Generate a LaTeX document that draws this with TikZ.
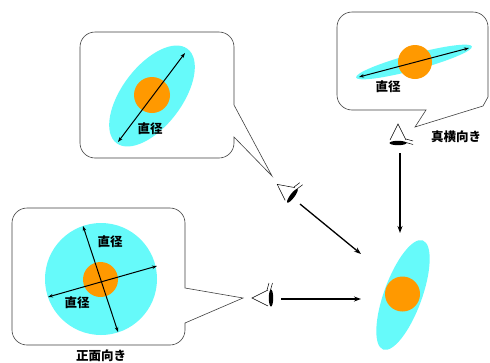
\documentclass[tikz,border=0pt]{standalone}
\usepackage{fontspec}
\newfontfamily\jp{Noto Sans CJK JP}
\usetikzlibrary{arrows.meta}
\definecolor{skycyan}{RGB}{102,250,250}
\definecolor{coreorange}{RGB}{255,153,0}
\begin{document}
\begin{tikzpicture}[x=1pt,y=-1pt,
  lbl/.style={font=\jp\bfseries\fontsize{12.5}{13}\selectfont, inner sep=0pt},
  bubble/.style={draw=black!75, line width=0.6pt, fill=white},
  sight/.style={line width=1.3pt, -{Stealth[length=7pt,width=5pt]}},
  diam/.style={line width=1pt, {Stealth[length=5pt,width=3.5pt]}-{Stealth[length=5pt,width=3.5pt]}},
  halo/.style={fill=skycyan},
  core/.style={fill=coreorange},
  eyeicon/.pic={
    \draw[line width=0.5pt] (0,-8) -- (-16,0) -- (0,8);
    \fill (3,0) ellipse [x radius=2.2pt, y radius=8.5pt];
    \draw[line width=0.5pt] (-1,-8) -- (1,-15) (2.5,-8) -- (4.5,-15);
  }]
\useasboundingbox (0,0) rectangle (490,362);

% speech bubble: oblique view
\draw[bubble] (234,105) -- (272,176) -- (234,137) -- (234,143)
  arc[start angle=0,end angle=-90,radius=15pt] -- (95,158)
  arc[start angle=-90,end angle=-180,radius=15pt] -- (80,47)
  arc[start angle=180,end angle=90,radius=15pt] -- (219,32)
  arc[start angle=90,end angle=0,radius=15pt] -- cycle;
\fill[halo, rotate around={53:(152,96)}] (152,96) ellipse [x radius=59pt, y radius=30pt];
\fill[core] (152,95) circle [radius=18pt];
\coordinate (obA) at (118,142);
\coordinate (obB) at (185,53);
\draw[diam] (obA) -- (obB);
\node[lbl] (obLabel) at (150,129) {直径};

% speech bubble: edge-on view
\draw[bubble] (426,110) -- (415,127) -- (483,106) -- (488,97) -- (488,27)
  arc[start angle=0,end angle=90,radius=15pt] -- (352,12)
  arc[start angle=90,end angle=180,radius=15pt] -- (337,95)
  arc[start angle=180,end angle=270,radius=15pt] -- cycle;
\fill[halo, rotate around={15:(414,62)}] (414,62) ellipse [x radius=60pt, y radius=8pt];
\fill[core] (415,62) circle [radius=17pt];
\coordinate (edA) at (359,77);
\coordinate (edB) at (469,48);
\draw[diam] (edA) -- (edB);
\node[lbl] (edLabel) at (388,87) {直径};

% speech bubble: face-on view
\draw[bubble] (185,288) -- (243,298) -- (185,323) -- (185,330)
  arc[start angle=0,end angle=-90,radius=15pt] -- (27,345)
  arc[start angle=-90,end angle=-180,radius=15pt] -- (12,223)
  arc[start angle=180,end angle=90,radius=15pt] -- (170,208)
  arc[start angle=90,end angle=0,radius=15pt] -- cycle;
\fill[halo] (101,279) circle [radius=56pt];
\fill[core] (100.5,279.5) circle [radius=17.5pt];
\coordinate (faA) at (83,226);
\coordinate (faB) at (118,332);
\coordinate (faC) at (48,297);
\coordinate (faD) at (157,266);
\draw[diam] (faA) -- (faB);
\draw[diam] (faC) -- (faD);
\node[lbl] (faLabelA) at (110,242) {直径};
\node[lbl] (faLabelB) at (77,303) {直径};
\node[lbl] (faTitle) at (101,356) {正面向き};

% observers
\pic[rotate=-37] at (290,194) {eyeicon};
\pic at (268,298) {eyeicon};
\pic[rotate=-90] at (398,140) {eyeicon};
\node[lbl] (edTitle) at (456,137) {真横向き};

% the observed object
\fill[halo, rotate around={70:(403,295)}] (403,295) ellipse [x radius=58pt, y radius=19pt];
\fill[core] (402.5,294) circle [radius=17.5pt];

% lines of sight
\coordinate (sObl) at (300,204);
\coordinate (eObl) at (361,254);
\coordinate (sFace) at (281,299);
\coordinate (eFace) at (361,299);
\coordinate (sEdge) at (400,153);
\coordinate (eEdge) at (400,233);
\draw[sight] (sObl) -- (eObl);
\draw[sight] (sFace) -- (eFace);
\draw[sight] (sEdge) -- (eEdge);
\end{tikzpicture}
\end{document}
